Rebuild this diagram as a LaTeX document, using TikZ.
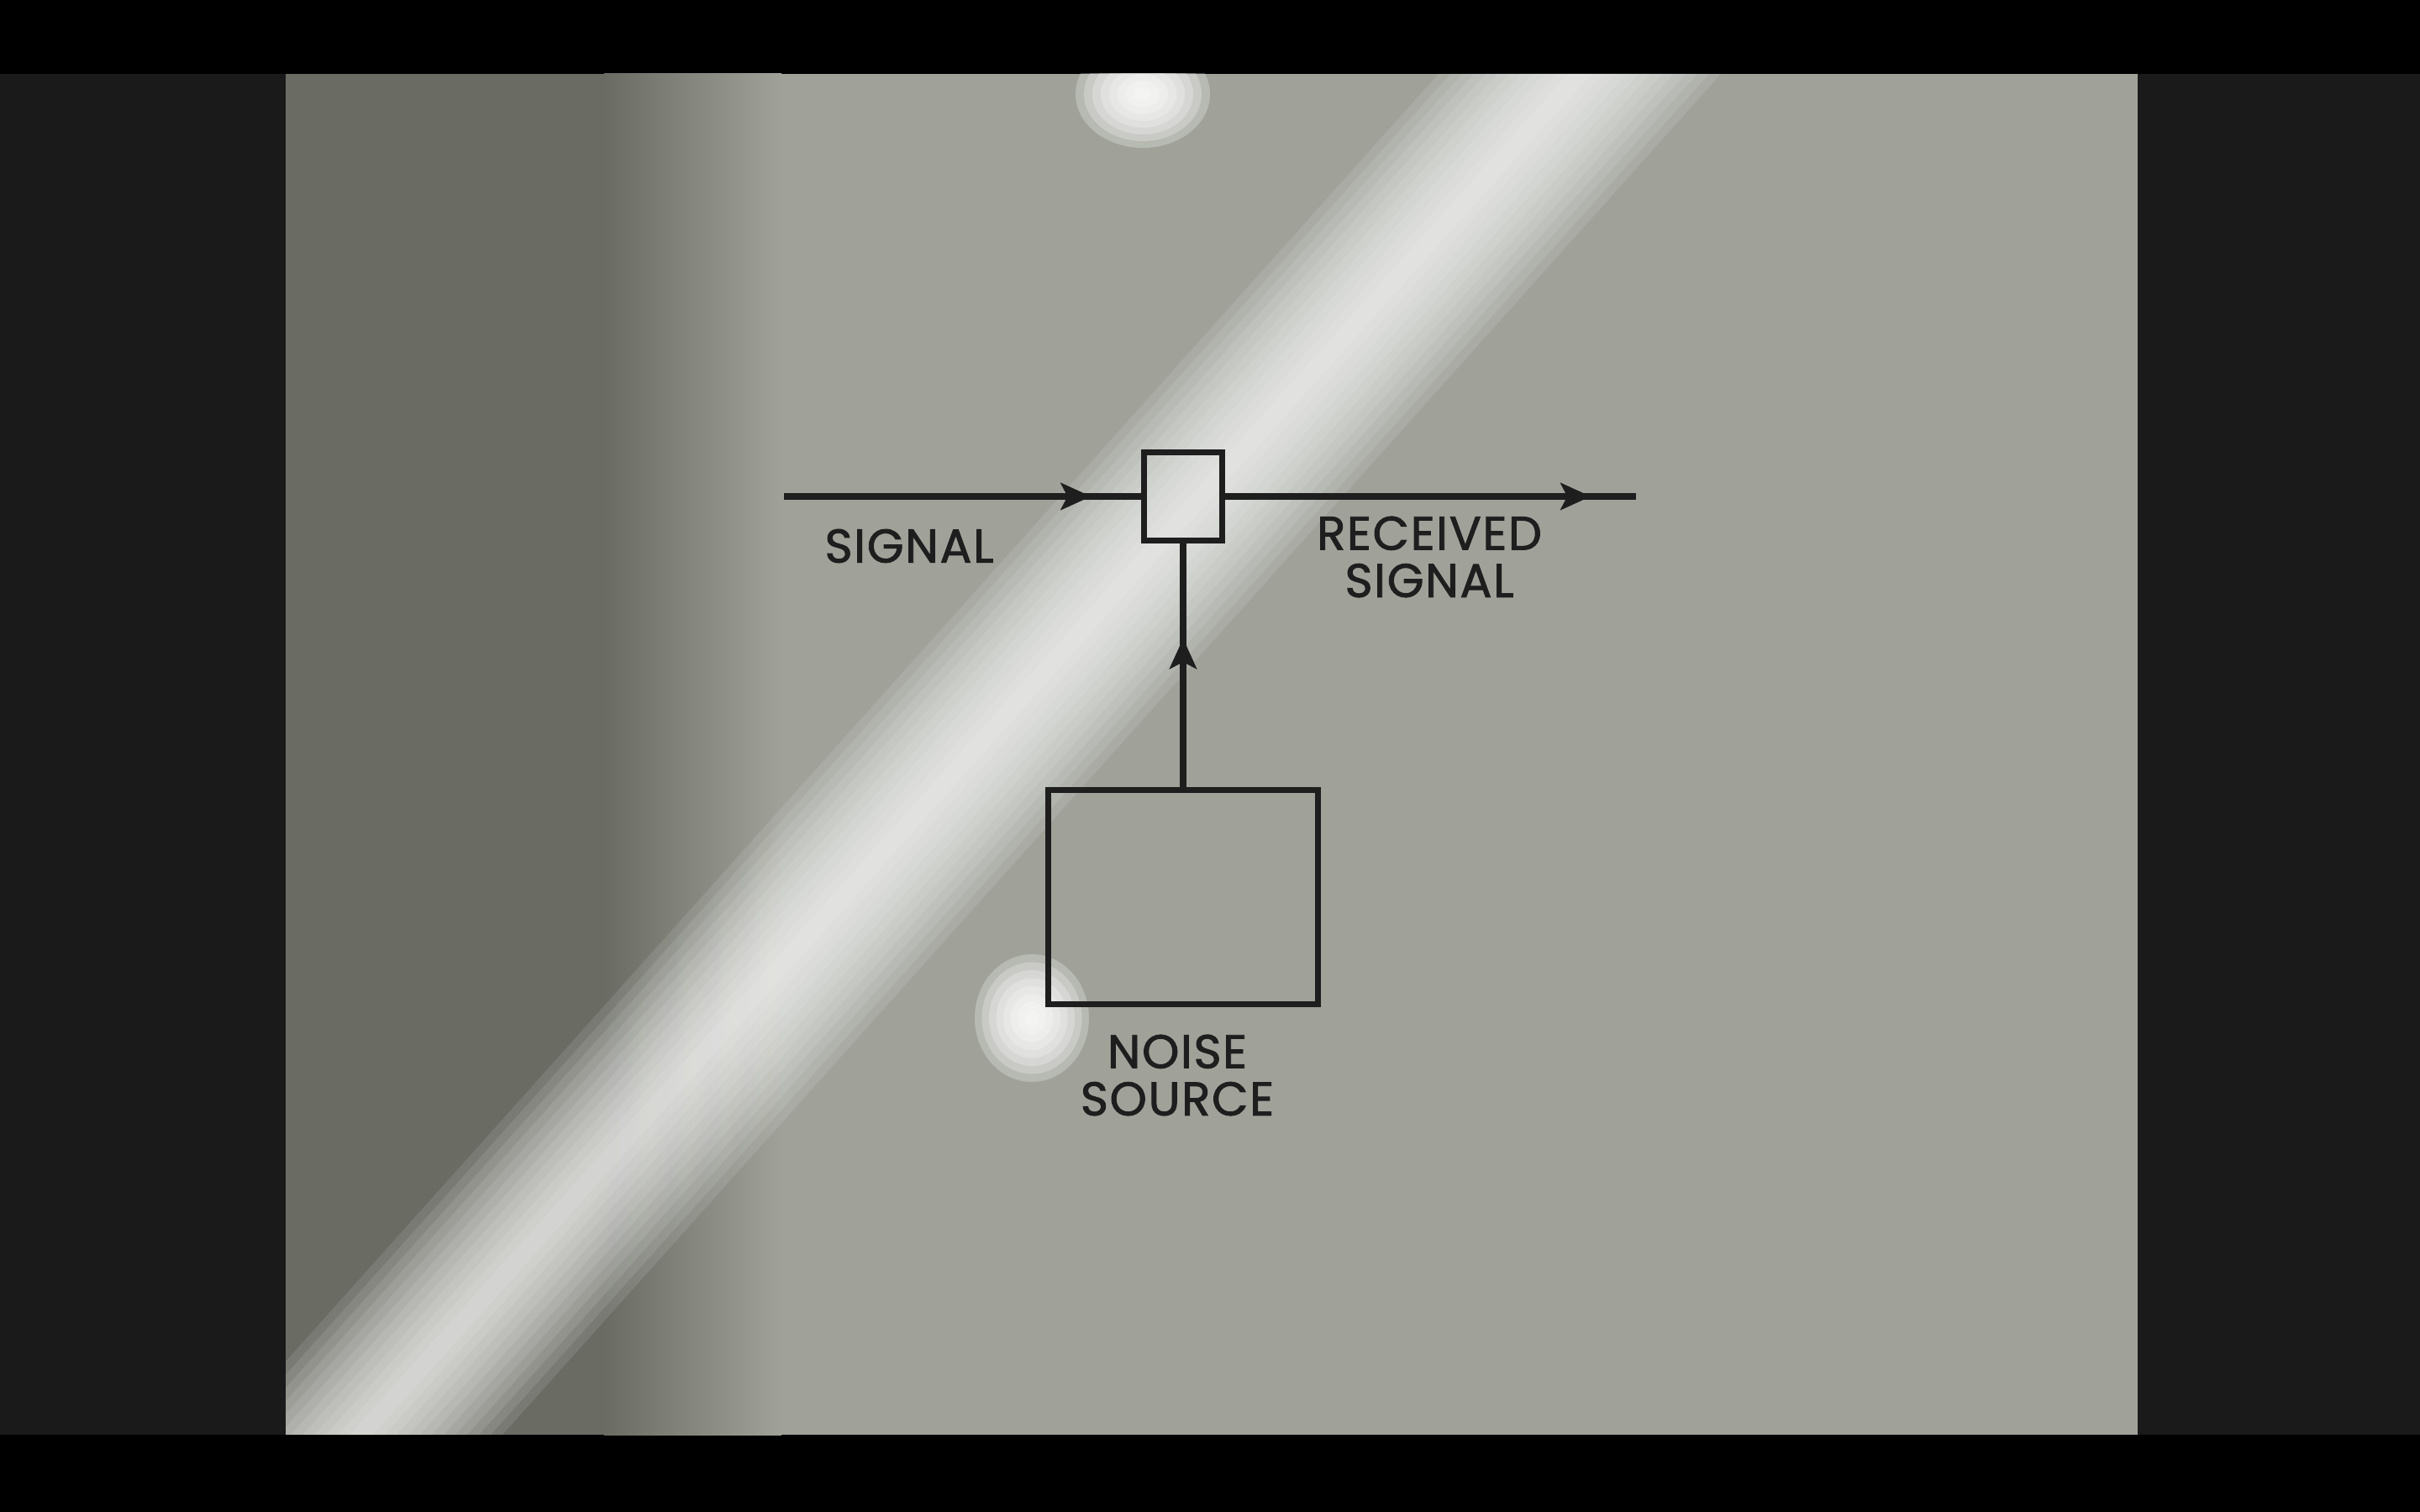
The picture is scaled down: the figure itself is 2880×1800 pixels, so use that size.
\documentclass[tikz,border=0pt]{standalone}
\usepackage{fontspec}
\setsansfont[LetterSpace=3,FakeBold=1.6]{Poppins}
\usetikzlibrary{arrows.meta,decorations.markings}
\definecolor{paper}{RGB}{160,162,154}
\definecolor{shadowpaper}{RGB}{106,108,100}
\definecolor{panel}{RGB}{26,26,26}
\definecolor{ink}{RGB}{30,30,30}

\begin{document}
\begin{tikzpicture}[
        x=0.01cm, y=-0.01cm,
        every node/.style={draw=ink, line width=2pt, inner sep=0pt},
        lbl/.style={draw=none, text=ink, font=\sffamily\fontsize{16}{16}\selectfont},
        wire/.style={draw=ink, line width=2pt},
        midarrow/.style={decoration={markings,
            mark=at position #1 with {\arrow{Stealth[length=0.36cm,width=0.32cm,inset=0.08cm]}}},
            postaction={decorate}},
    ]
        % backdrop
        \fill[black] (0,0) rectangle (2880,1800);
        \fill[panel] (0,88) rectangle (2880,1708);
        \fill[paper] (340,88) rectangle (2544,1708);
        \fill[shadowpaper] (340,88) rectangle (720,1708);
        \shade[left color=shadowpaper, right color=paper] (719,88) rectangle (930,1708);
        \begin{scope}
            \clip (340,88) rectangle (2544,1708);
            \foreach \i in {1,...,12}
                \fill[white, opacity=0.1] (1880-14*\i,88) -- (1880+14*\i,88) -- (430+14*\i,1708) -- (430-14*\i,1708) -- cycle;
            \foreach \i in {1,...,8} {
                \fill[white, opacity=0.25] (1360,112) ellipse ({10*\i} and {8*\i});
                \fill[white, opacity=0.25] (1228,1212) ellipse ({8.5*\i} and {9.5*\i});
            }
        \end{scope}
        % diagram
        \coordinate (sigin) at (933,591);
        \node[minimum width=0.93cm, minimum height=1.05cm] (mix) at (1408,591) {};
        \coordinate (sigout) at (1947,591);
        \node[minimum width=3.2cm, minimum height=2.55cm] (noise) at (1408,1068) {};
        \draw[wire, midarrow=0.86] (sigin) -- (mix.west);
        \draw[wire, midarrow=0.89] (mix.east) -- (sigout);
        \draw[wire, midarrow=0.61] (noise.north) -- (mix.south);
        \node[lbl] (siglbl) at (1082,650) {SIGNAL};
        \node[lbl, align=center] (rxlbl) at (1701,663) {RECEIVED\\SIGNAL};
        \node[lbl, align=center] (noiselbl) at (1401,1280) {NOISE\\SOURCE};
    \end{tikzpicture}
\end{document}
